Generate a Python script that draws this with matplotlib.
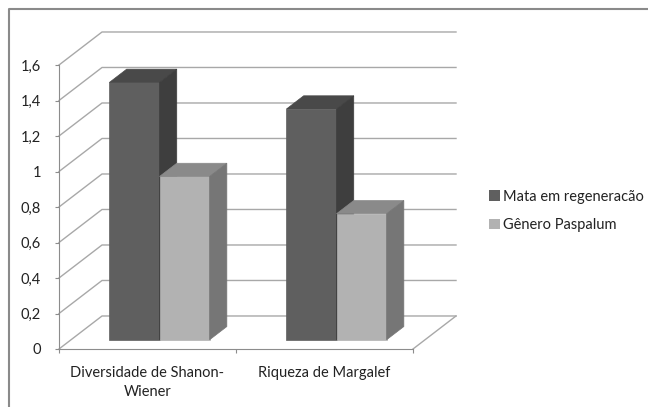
import matplotlib.pyplot as plt
from matplotlib.patches import Polygon, Patch
from matplotlib.lines import Line2D

categories = ["Diversidade de Shanon-\nWiener", "Riqueza de Margalef"]
series = ["Mata em regeneracão", "Gênero Paspalum"]
mata = [1.45, 1.30]
paspalum = [0.92, 0.71]
yticks = [0, 0.2, 0.4, 0.6, 0.8, 1.0, 1.2, 1.4, 1.6]
ytick_labels = ["0", "0,2", "0,4", "0,6", "0,8", "1", "1,2", "1,4", "1,6"]

# face colours per series: front, top, right side
front = ["#5f5f5f", "#b2b2b2"]
top = ["#494949", "#8a8a8a"]
side = ["#3e3e3e", "#767676"]
grid = "#a8a8a8"
axcol = "#8c8c8c"

DX, DY = 0.243, 0.186      # depth of the 3d box in data units
D0, DB = 0.28, 0.40        # bar offset / bar depth as fraction of the box depth
W = 0.283                  # bar width
FS = 10.5

plt.rcParams['font.family'] = ['Lato', 'DejaVu Sans']

fig = plt.figure(figsize=(6.48, 4.07), dpi=100)
ax = fig.add_axes([59/648, 58/407, 354/648, 284/407])
ax.set_xlim(0, 2)
ax.set_ylim(0, 1.6)
ax.patch.set_visible(False)

# walls: diagonal from each front tick, then the back gridline
for t in yticks:
    ax.plot([0, DX, 2 + DX], [t, t + DY, t + DY], color=grid, lw=1, clip_on=False, zorder=1)
ax.plot([2, 2 + DX], [0, DY], color=grid, lw=1, clip_on=False, zorder=1)


def bar3d(x0, v, k):
    ox, oy = D0 * DX, D0 * DY
    bx, by = DB * DX, DB * DY
    xl, xr = x0 + ox, x0 + W + ox
    faces = [
        ([(xl, oy), (xr, oy), (xr, v + oy), (xl, v + oy)], front[k]),
        ([(xl, v + oy), (xr, v + oy), (xr + bx, v + oy + by), (xl + bx, v + oy + by)], top[k]),
        ([(xr, oy), (xr + bx, oy + by), (xr + bx, v + oy + by), (xr, v + oy)], side[k]),
    ]
    for pts, c in faces:
        ax.add_patch(Polygon(pts, closed=True, facecolor=c, edgecolor=c, lw=0.5,
                             clip_on=False, zorder=2))


for i in range(len(categories)):
    for k, vals in enumerate([mata, paspalum]):
        bar3d(i + 0.5 - W + k * W, vals[i], k)

for s in ['top', 'right']:
    ax.spines[s].set_visible(False)
for s in ['left', 'bottom']:
    ax.spines[s].set_color(axcol)
    ax.spines[s].set_zorder(3)

ax.set_yticks(yticks, ytick_labels)
ax.tick_params(axis='y', length=3, color=axcol, pad=10, labelsize=FS, labelcolor='#222222')
ax.set_xticks([0, 1, 2], ["", "", ""])
ax.set_xticks([0.5, 1.5], categories, minor=True)
ax.tick_params(axis='x', which='major', length=3, color=axcol)
ax.tick_params(axis='x', which='minor', length=0, pad=12, labelsize=FS, labelcolor='#222222')
for t in ax.get_xticklabels(minor=True):
    t.set_linespacing(1.5)

handles = [Patch(facecolor=front[0]), Patch(facecolor=front[1])]
fig.legend(handles, series, loc='center left', bbox_to_anchor=(482/648, 1 - 211/407),
           frameon=False, handlelength=0.7, handleheight=0.7, handletextpad=0.25,
           labelspacing=1.0, fontsize=FS, borderpad=0, labelcolor='#222222')

# chart area border (only top and left visible)
fig.add_artist(Line2D([9/648, 9/648, 1], [0, 1 - 9/407, 1 - 9/407], color="#8a8a8a", lw=1.5))

fig.savefig("out.png", dpi=100)
